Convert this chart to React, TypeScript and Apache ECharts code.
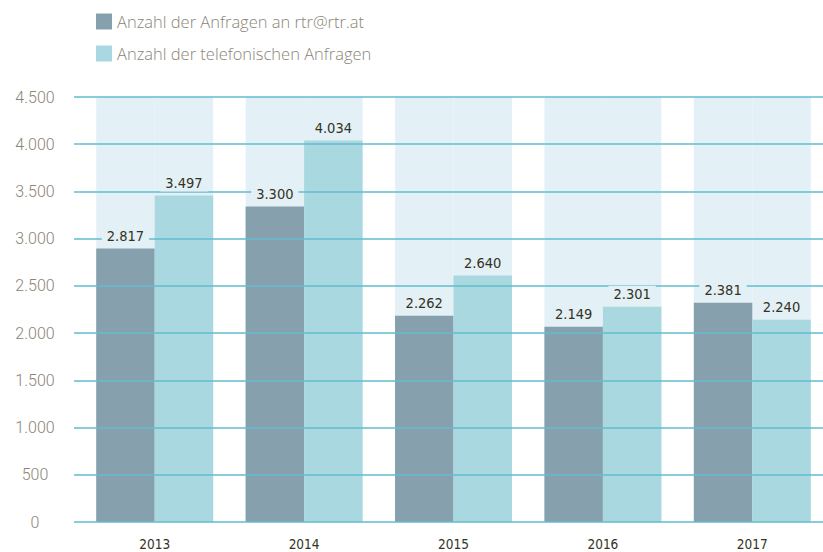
import React, { useEffect, useRef } from "react";
import * as echarts from "echarts";

const years = ["2013", "2014", "2015", "2016", "2017"];
// bar heights as drawn in the picture
const emailValues = [2895, 3340, 2184, 2068, 2322];
const phoneValues = [3457, 4040, 2609, 2280, 2142];
// value labels as printed
const emailLabels = ["2.817", "3.300", "2.262", "2.149", "2.381"];
const phoneLabels = ["3.497", "4.034", "2.640", "2.301", "2.240"];
const seriesNames = ["Anzahl der Anfragen an rtr@rtr.at", "Anzahl der telefonischen Anfragen"];
const yMin = 0;
const yMax = 4500;
const yInterval = 500;

const DARK = "#86a1ad";
const LIGHT = "#a9d8e0";
const BAND = "#e3f0f5";
const GRIDLINE = "#62bdcf";
const NARROW = '"DejaVu Sans Condensed", "Roboto", sans-serif';

export default function App() {
  const ref = useRef<HTMLDivElement>(null);
  useEffect(() => {
    if (!ref.current) return;
    const chart = echarts.init(ref.current, undefined, { renderer: "svg" });
    const grid0 = { left: 74, right: 0, top: 97, bottom: 30, outerBoundsMode: "none" };
    const grid1 = { left: 80, width: 747, top: 97, bottom: 30, outerBoundsMode: "none" };
    const labelCfg = (labels: string[]) => ({
      show: true,
      position: "top" as const,
      distance: 4,
      formatter: (p: any) => labels[p.dataIndex],
      color: "#33321f",
      fontFamily: NARROW,
      fontSize: 14.5,
      fontWeight: 500,
      backgroundColor: BAND,
      padding: [1, 5, 1, 5],
    });
    chart.setOption({
      animation: false,
      legend: {
        data: seriesNames,
        orient: "vertical",
        left: 96,
        top: 13,
        itemWidth: 16,
        itemHeight: 16,
        itemGap: 15,
        itemTextGap: 5,
        padding: 0,
        icon: "rect",
        textStyle: { color: "#8a8578", fontSize: 16.5, fontFamily: '"Open Sans", Roboto, sans-serif', fontWeight: 300 },
      },
      grid: [grid0, grid1],
      xAxis: [
        { type: "category", gridIndex: 0, data: years, show: false },
        {
          type: "category",
          gridIndex: 1,
          data: years,
          axisLine: { show: false },
          axisTick: { show: false },
          axisLabel: {
            color: "#33321f",
            fontFamily: NARROW,
            fontSize: 13.5,
            fontWeight: 500,
            margin: 15,
          },
        },
        { type: "category", gridIndex: 1, data: years, show: false },
      ],
      yAxis: [
        {
          type: "value",
          gridIndex: 0,
          min: yMin,
          max: yMax,
          interval: yInterval,
          z: 3,
          axisLine: { show: false },
          axisTick: { show: false },
          splitLine: { lineStyle: { color: GRIDLINE, width: 1.5 } },
          axisLabel: {
            align: "center",
            margin: 39,
            color: "#8a8578",
            fontSize: 16,
            fontFamily: "Roboto",
            fontWeight: 300,
            formatter: (v: number) => String(v).replace(/\B(?=(\d{3})+(?!\d))/g, "."),
          },
        },
        { type: "value", gridIndex: 1, min: yMin, max: yMax, interval: yInterval, show: false },
      ],
      series: [
        {
          name: seriesNames[0],
          type: "bar",
          xAxisIndex: 1,
          yAxisIndex: 1,
          data: emailValues,
          barGap: "0%",
          barCategoryGap: "21.7%",
          itemStyle: { color: DARK },
          showBackground: true,
          backgroundStyle: { color: BAND },
          z: 2,
        },
        {
          name: seriesNames[1],
          type: "bar",
          xAxisIndex: 1,
          yAxisIndex: 1,
          data: phoneValues,
          barGap: "0%",
          barCategoryGap: "21.7%",
          itemStyle: { color: LIGHT },
          showBackground: true,
          backgroundStyle: { color: BAND },
          z: 2,
        },
        {
          name: "labels-email",
          type: "bar",
          xAxisIndex: 2,
          yAxisIndex: 1,
          data: emailValues,
          barGap: "0%",
          barCategoryGap: "21.7%",
          itemStyle: { color: "rgba(0,0,0,0)" },
          label: labelCfg(emailLabels),
          silent: true,
          z: 5,
        },
        {
          name: "labels-phone",
          type: "bar",
          xAxisIndex: 2,
          yAxisIndex: 1,
          data: phoneValues,
          barGap: "0%",
          barCategoryGap: "21.7%",
          itemStyle: { color: "rgba(0,0,0,0)" },
          label: labelCfg(phoneLabels),
          silent: true,
          z: 5,
        },
      ],
    });
    return () => chart.dispose();
  }, []);
  return (
    <div
      ref={ref}
      style={{ position: "fixed", left: 0, top: 0, width: 823, height: 552, background: "#ffffff" }}
    />
  );
}
